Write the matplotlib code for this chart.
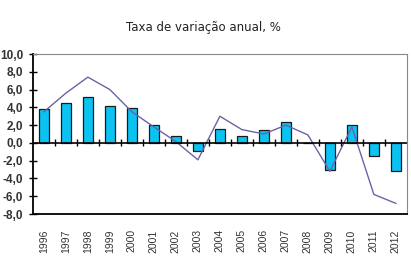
import matplotlib
matplotlib.use("Agg")
import matplotlib.pyplot as plt
import numpy as np

# === Data ===
YEARS = [str(y) for y in range(1996, 2013)]
BAR_VALUES = [3.8, 4.5, 5.2, 4.2, 3.9, 2.0, 0.8, -0.9, 1.6, 0.8, 1.4, 2.4, 0.0,
              -3.0, 2.0, -1.5, -3.2]
LINE_VALUES = [3.5, 5.6, 7.4, 6.0, 3.5, 1.8, 0.15, -1.9, 3.0, 1.5, 1.0, 2.0, 0.9,
               -3.2, 1.8, -5.8, -6.8]
Y_TICKS = [10, 8, 6, 4, 2, 0, -2, -4, -6, -8]
TITLE = "Taxa de variação anual, %"

BAR_COLOR = "#0BC3F2"
LINE_COLOR = "#6A63A6"

plt.rcParams["font.family"] = ["Liberation Sans", "DejaVu Sans"]


def main():
    fig = plt.figure(figsize=(4.11, 2.61), dpi=100)
    ax = fig.add_axes([0.080, 0.180, 0.910, 0.613])

    x = np.arange(len(YEARS))
    ax.bar(x, BAR_VALUES, width=0.42, color=BAR_COLOR, edgecolor="#1a1a1a",
           linewidth=0.9, zorder=2)
    ax.plot(x, LINE_VALUES, color=LINE_COLOR, linewidth=1.0, zorder=3)

    # zero line with category separators
    ax.axhline(0, color="black", linewidth=1.2, zorder=4)
    ax.vlines(x[1:] - 0.5, -0.4, 0.4, color="black", linewidth=1.0, zorder=4)

    ax.set_xlim(-0.5, len(YEARS) - 0.5)
    ax.set_ylim(-8, 10)
    ax.set_yticks(Y_TICKS)
    ax.set_yticklabels([f"{v:.1f}".replace(".", ",") for v in Y_TICKS],
                       fontsize=8.5, fontweight="bold", color="#333333")
    ax.tick_params(axis="y", direction="inout", length=6, width=1.0, pad=4)

    ax.set_xticks(x)
    ax.set_xticklabels(YEARS, rotation=90, fontsize=7.5, color="#333333")
    ax.tick_params(axis="x", length=0, pad=11)

    for side in ("top", "right"):
        ax.spines[side].set_color("#888888")
        ax.spines[side].set_linewidth(0.8)
    for side in ("left", "bottom"):
        ax.spines[side].set_color("black")
        ax.spines[side].set_linewidth(1.3)

    fig.text(0.495, 0.895, TITLE, ha="center", va="center", fontsize=8.5,
             color="#222222", family="DejaVu Sans")

    fig.savefig("out.png", dpi=100)


if __name__ == "__main__":
    main()
